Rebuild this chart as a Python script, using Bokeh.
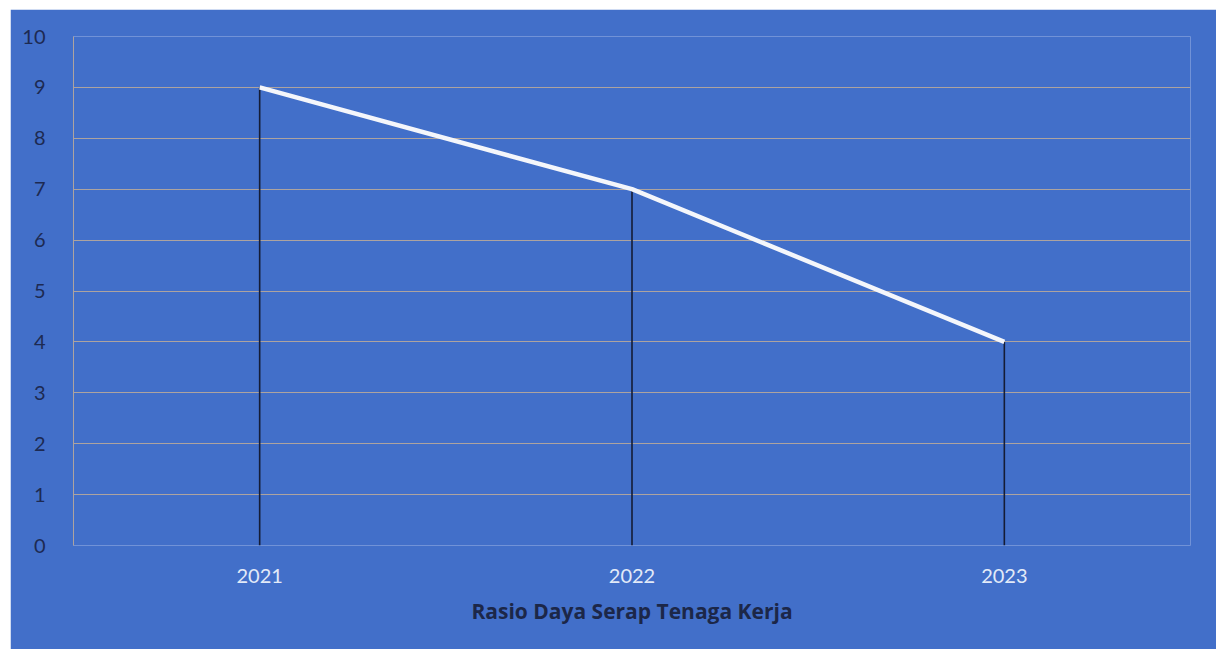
from bokeh.plotting import figure
from bokeh.models import FixedTicker, Range1d, FactorRange
from bokeh.embed import file_html
from bokeh.resources import INLINE

years = ["2021", "2022", "2023"]
values = [9, 7, 4]
y_ticks = [0, 1, 2, 3, 4, 5, 6, 7, 8, 9, 10]
x_title = "Rasio Daya Serap Tenaga Kerja"

BLUE = "#426fc9"
GRID = "#ada39f"

p = figure(
    x_range=FactorRange(*years), y_range=Range1d(0, 10),
    width=1206, height=640, margin=(9, 0, 0, 10),
    output_backend="svg", toolbar_location=None,
    min_border_left=63, min_border_right=26, min_border_top=27, min_border_bottom=104,
    background_fill_color=BLUE, border_fill_color=BLUE, outline_line_color=None,
)

p.segment(x0=years, y0=[0] * len(years), x1=years, y1=values, line_color="#151c35", line_width=1.6)
p.line(x=years, y=values, line_color="#f4f6fb", line_width=4.5)

p.xgrid.grid_line_color = None
p.ygrid.grid_line_color = GRID
p.ygrid.grid_line_width = 1.2
p.yaxis.ticker = FixedTicker(ticks=y_ticks)

p.yaxis.axis_line_color = GRID
p.yaxis.major_tick_line_color = None
p.yaxis.minor_tick_line_color = None
p.yaxis.major_label_standoff = 22
p.yaxis.major_label_text_font = "Lato"
p.yaxis.major_label_text_font_size = "20px"
p.yaxis.major_label_text_color = "#1d2a52"

p.xaxis.axis_line_color = None
p.xaxis.major_tick_line_color = None
p.xaxis.minor_tick_line_color = None
p.xaxis.major_label_standoff = 17
p.xaxis.major_label_text_font = "Lato"
p.xaxis.major_label_text_font_size = "20px"
p.xaxis.major_label_text_color = "#e2eaf8"
p.xaxis.axis_label = x_title
p.xaxis.axis_label_standoff = 11
p.xaxis.axis_label_text_font = "Open Sans"
p.xaxis.axis_label_text_font_size = "21px"
p.xaxis.axis_label_text_font_style = "bold"
p.xaxis.axis_label_text_color = "#1c2748"

open("out.html", "w").write(file_html(p, INLINE))
